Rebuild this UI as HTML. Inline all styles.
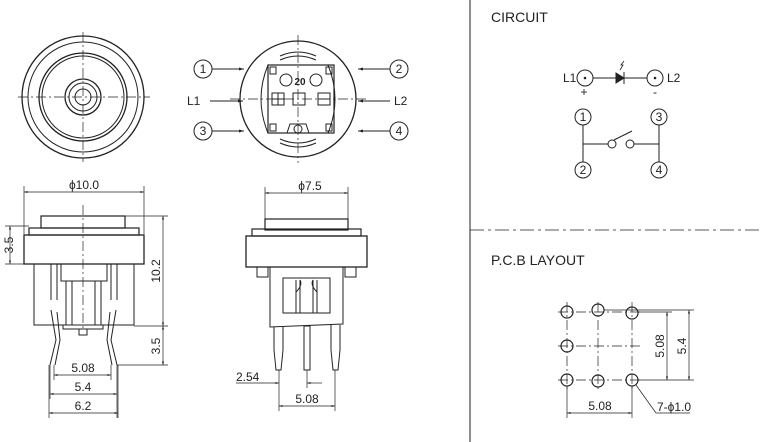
<!DOCTYPE html>
<html><head><meta charset="utf-8"><style>
html,body{margin:0;padding:0;background:#fff}
svg{display:block}
text{font-family:"Liberation Sans",sans-serif;fill:#222}
</style></head><body>
<svg width="760" height="442" viewBox="0 0 760 442" xmlns="http://www.w3.org/2000/svg">
<defs>
<marker id="a" viewBox="0 0 10 10" refX="10" refY="5" markerWidth="7" markerHeight="5" orient="auto-start-reverse"><path d="M0,2 L10,5 L0,8z" fill="#222"/></marker>
</defs>
<g stroke="#222" fill="none" stroke-width="1">
<circle cx="83" cy="97" r="61" stroke-width="1.3"/>
<circle cx="83" cy="97" r="55"/>
<circle cx="83" cy="97" r="44" stroke-width="1.3"/>
<circle cx="83" cy="97" r="41"/>
<circle cx="83" cy="97" r="18" stroke-width="1.3"/>
<circle cx="83" cy="97" r="14"/>
<circle cx="83" cy="97" r="8"/>
<g stroke-dasharray="10,3,2,3" stroke-width="0.7">
<line x1="18" y1="97" x2="150" y2="97"/><line x1="83" y1="32" x2="83" y2="162"/>
<line x1="230" y1="99" x2="368" y2="99"/><line x1="298" y1="35" x2="298" y2="163"/>
</g>
<circle cx="298" cy="99" r="58" stroke-width="1.3"/>
<path d="M280,60 Q298,52 316,60 M280,56 Q298,48 316,56" />
<path d="M280,139 Q298,147 316,139 M280,143 Q298,151 316,143"/>
<path d="M268,65 Q254,99 268,133 M328,65 Q342,99 328,133"/>
<rect x="268" y="65" width="66" height="68" stroke-width="1.2"/>
<rect x="270" y="67" width="6" height="7"/><rect x="326" y="67" width="6" height="7"/>
<rect x="270" y="124" width="6" height="7"/><rect x="326" y="124" width="6" height="7"/>
<circle cx="286" cy="80" r="6"/><circle cx="316" cy="80" r="6"/>
<rect x="272" y="93" width="12" height="12"/><line x1="278" y1="93" x2="278" y2="105"/><line x1="272" y1="99" x2="284" y2="99"/>
<rect x="293" y="93" width="12" height="12"/>
<rect x="318" y="93" width="12" height="12"/><line x1="318" y1="99" x2="330" y2="99"/>
<path d="M287,133 L290,124 L306,124 L309,133"/><circle cx="298" cy="129" r="4"/>
<circle cx="203" cy="69" r="9"/><circle cx="399" cy="69" r="9"/>
<circle cx="203" cy="131" r="9"/><circle cx="399" cy="131" r="9"/>
<line x1="212" y1="69" x2="244" y2="69" marker-end="url(#a)"/>
<line x1="390" y1="69" x2="358" y2="69" marker-end="url(#a)"/>
<line x1="212" y1="131" x2="244" y2="131" marker-end="url(#a)"/>
<line x1="390" y1="131" x2="358" y2="131" marker-end="url(#a)"/>
<line x1="210" y1="101" x2="243" y2="101" marker-end="url(#a)"/>
<line x1="390" y1="101" x2="358" y2="101" marker-end="url(#a)"/>

<rect x="41" y="216" width="84" height="12" stroke-width="1.2"/>
<rect x="29" y="228" width="110" height="7" stroke-width="1.2"/>
<rect x="24" y="235" width="120" height="29" stroke-width="1.3"/>
<path d="M34,264 V325 H134 V264"/>
<path d="M61,264 V281 H107 V264"/>
<path d="M66,281 V325 M101,281 V325 M72,281 V325 M95,281 V325"/>
<path d="M51,264 V300 M57,264 V300 M111,264 V300 M117,264 V300"/>
<path d="M51,310 L56,340 L50,365 M57,312 L60,340 L55,365"/>
<path d="M116,310 L111,340 L117,365 M110,312 L107,340 L112,365"/>
<rect x="63" y="325" width="40" height="4"/><rect x="79" y="329" width="8" height="6"/>
<line x1="83" y1="205" x2="83" y2="330" stroke-dasharray="10,3,2,3" stroke-width="0.7"/>
<g stroke-width="0.7">
<line x1="24" y1="192" x2="144" y2="192" marker-start="url(#a)" marker-end="url(#a)"/>
<line x1="24" y1="186" x2="24" y2="234"/><line x1="144" y1="186" x2="144" y2="234"/>
<line x1="10" y1="226" x2="10" y2="264" marker-start="url(#a)" marker-end="url(#a)"/>
<line x1="5" y1="226" x2="29" y2="226"/><line x1="5" y1="264" x2="24" y2="264"/>
<line x1="163" y1="216" x2="163" y2="326" marker-start="url(#a)" marker-end="url(#a)"/>
<line x1="125" y1="216" x2="168" y2="216"/><line x1="134" y1="326" x2="168" y2="326"/>
<line x1="163" y1="326" x2="163" y2="365" marker-start="url(#a)" marker-end="url(#a)"/>
<line x1="117" y1="365" x2="168" y2="365"/>
<line x1="54" y1="375" x2="111" y2="375" marker-start="url(#a)" marker-end="url(#a)"/>
<line x1="50" y1="394" x2="117" y2="394" marker-start="url(#a)" marker-end="url(#a)"/>
<line x1="49" y1="413" x2="118" y2="413" marker-start="url(#a)" marker-end="url(#a)"/>
<line x1="54" y1="365" x2="54" y2="380"/><line x1="111" y1="365" x2="111" y2="380"/>
<line x1="50" y1="365" x2="50" y2="399"/><line x1="117" y1="365" x2="117" y2="418"/>
<line x1="49" y1="365" x2="49" y2="418"/><line x1="118" y1="365" x2="118" y2="418"/>
</g>

<rect x="265" y="219" width="83" height="11" stroke-width="1.2"/>
<rect x="252" y="229" width="109" height="7" stroke-width="1.2"/>
<rect x="246" y="236" width="121" height="31" stroke-width="1.3"/>
<rect x="257" y="267" width="11" height="10"/><rect x="345" y="267" width="11" height="10"/>
<path d="M270,267 V327 L343,324 V267"/>
<rect x="283" y="278" width="47" height="35"/>
<path d="M296,280 V313 M300,280 V313 M313,280 V313 M317,280 V313 M296,292 Q303,285 300,280 M317,292 Q310,285 313,280"/>
<path d="M274,327 V350 L276,370 H281 L283,350 V327"/>
<rect x="304" y="326" width="6" height="44"/>
<path d="M331,325 V350 L333,370 H338 L340,350 V325"/>
<g stroke-width="0.7">
<line x1="265" y1="193" x2="348" y2="193" marker-start="url(#a)" marker-end="url(#a)"/>
<line x1="265" y1="187" x2="265" y2="219"/><line x1="348" y1="187" x2="348" y2="219"/>
<line x1="236" y1="383" x2="279" y2="383" marker-end="url(#a)"/>
<line x1="322" y1="383" x2="307" y2="383" marker-end="url(#a)"/>
<line x1="279" y1="370" x2="279" y2="411"/><line x1="307" y1="370" x2="307" y2="388"/>
<line x1="335" y1="370" x2="335" y2="411"/>
<line x1="279" y1="406" x2="335" y2="406" marker-start="url(#a)" marker-end="url(#a)"/>
</g>

<line x1="470" y1="0" x2="470" y2="442" stroke-width="1"/>
<line x1="470" y1="230" x2="760" y2="230" stroke-dasharray="14,4,3,4" stroke-width="0.8"/>

<circle cx="585" cy="78" r="8"/><circle cx="655" cy="78" r="8"/>
<circle cx="585" cy="78" r="0.8" fill="#222"/><circle cx="655" cy="78" r="0.8" fill="#222"/>
<line x1="593" y1="78" x2="647" y2="78"/>
<path d="M616,73 L624,78 L616,83z" fill="#222"/><line x1="624" y1="72" x2="624" y2="84"/>
<path d="M620,70 L623,65 L621,65 L624,61" stroke-width="0.8"/>
<circle cx="583" cy="117" r="8"/><circle cx="659" cy="117" r="8"/>
<circle cx="583" cy="170" r="8"/><circle cx="659" cy="170" r="8"/>
<line x1="583" y1="125" x2="583" y2="162"/><line x1="659" y1="125" x2="659" y2="162"/>
<line x1="583" y1="144" x2="608" y2="144"/><line x1="634" y1="144" x2="659" y2="144"/>
<circle cx="612" cy="144" r="4"/><circle cx="630" cy="144" r="4"/>
<line x1="614" y1="140" x2="632" y2="131"/>

<g stroke-dasharray="10,3,2,3" stroke-width="0.7">
<line x1="558" y1="312" x2="640" y2="312"/><line x1="558" y1="346" x2="640" y2="346"/><line x1="558" y1="380" x2="640" y2="380"/>
<line x1="567" y1="302" x2="567" y2="390"/><line x1="598" y1="302" x2="598" y2="390"/><line x1="632" y1="302" x2="632" y2="390"/>
</g>
<g stroke-width="1.2">
<circle cx="567" cy="312" r="6"/><circle cx="598" cy="310" r="6"/><circle cx="632" cy="313" r="6"/>
<circle cx="567" cy="346" r="6"/><circle cx="567" cy="380" r="6"/><circle cx="598" cy="381" r="6"/><circle cx="632" cy="380" r="6"/>
</g>
<g stroke-width="0.7">
<line x1="638" y1="312" x2="672" y2="312"/><line x1="638" y1="380" x2="694" y2="380"/>
<line x1="604" y1="310" x2="694" y2="310"/>
<line x1="667" y1="312" x2="667" y2="380" marker-start="url(#a)" marker-end="url(#a)"/>
<line x1="689" y1="310" x2="689" y2="380" marker-start="url(#a)" marker-end="url(#a)"/>
<line x1="567" y1="386" x2="567" y2="418"/><line x1="632" y1="386" x2="632" y2="418"/>
<line x1="567" y1="413" x2="632" y2="413" marker-start="url(#a)" marker-end="url(#a)"/>
<line x1="636" y1="385" x2="656" y2="413"/><line x1="656" y1="413" x2="690" y2="413"/>
</g>
</g>

<g font-size="12">
<text x="203" y="73" text-anchor="middle">1</text><text x="399" y="73" text-anchor="middle">2</text>
<text x="203" y="135" text-anchor="middle">3</text><text x="399" y="135" text-anchor="middle">4</text>
<text x="187" y="105">L1</text><text x="394" y="105">L2</text>
<text x="300" y="85" font-size="10" font-weight="bold" fill="#888" text-anchor="middle">20</text>
<text x="84" y="189" text-anchor="middle">ϕ10.0</text>
<text x="310" y="190" text-anchor="middle">ϕ7.5</text>
<text transform="translate(13,245) rotate(-90)" text-anchor="middle">3.5</text>
<text transform="translate(160,271) rotate(-90)" text-anchor="middle">10.2</text>
<text transform="translate(160,346) rotate(-90)" text-anchor="middle">3.5</text>
<text x="83" y="372" text-anchor="middle">5.08</text>
<text x="83" y="391" text-anchor="middle">5.4</text>
<text x="83" y="410" text-anchor="middle">6.2</text>
<text x="236" y="381">2.54</text>
<text x="307" y="403" text-anchor="middle">5.08</text>
<text x="563" y="82">L1</text><text x="667" y="82">L2</text>
<text x="584" y="96" text-anchor="middle">+</text><text x="655" y="96" text-anchor="middle">-</text>
<text x="583" y="121" text-anchor="middle">1</text><text x="659" y="121" text-anchor="middle">3</text>
<text x="583" y="174" text-anchor="middle">2</text><text x="659" y="174" text-anchor="middle">4</text>
<text transform="translate(664,346) rotate(-90)" text-anchor="middle">5.08</text>
<text transform="translate(686,346) rotate(-90)" text-anchor="middle">5.4</text>
<text x="600" y="410" text-anchor="middle">5.08</text>
<text x="657" y="411">7-ϕ1.0</text>
</g>
<g font-size="14">
<text x="491" y="22">CIRCUIT</text>
<text x="491" y="265">P.C.B LAYOUT</text>
</g>
</svg>
</body></html>
